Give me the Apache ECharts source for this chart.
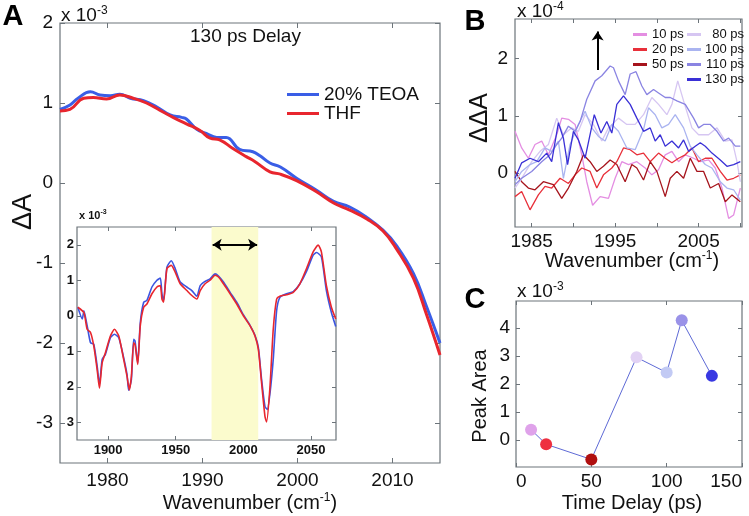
<!DOCTYPE html>
<html>
<head>
<meta charset="utf-8">
<script src="https://cdn.jsdelivr.net/npm/echarts@6.0.0/dist/echarts.min.js"></script>
<style>
html,body{margin:0;padding:0;background:#fff;}
#chart{width:749px;height:516px;}
</style>
</head>
<body>
<div id="chart"></div>
<script>
// ---------- Panel A (main, 130 ps delay) ----------
const aBlueWn = [1975,1976.05,1976.9,1978.2,1979.2,1980.3,1981.3,1982.4,1983.8,1985.2,1986.6,1987.8,1988.3,1989.4,1990.4,1991.5,1992.5,1993.9,1995.3,1996.05,1997.1,1998.2,1999.9,2002,2003.8,2005.5,2007.3,2009,2010.4,2012.2,2013.6,2015];
const aBlueDA = [0.92,0.975,1.06,1.14,1.1,1.09,1.11,1.06,1.03,0.95,0.85,0.82,0.8,0.67,0.62,0.57,0.57,0.42,0.39,0.34,0.25,0.2,0.06,-0.09,-0.23,-0.3,-0.43,-0.59,-0.78,-1.13,-1.55,-2.0];
const aRedWn = [1975,1976.05,1977.5,1978.5,1979.9,1981.3,1982.7,1984.1,1985.5,1986.9,1988.3,1989.7,1990.8,1991.8,1993.2,1994.6,1995.5,1997.1,1998.2,1999.9,2002,2003.8,2005.5,2007.3,2009,2010.4,2012.2,2013.6,2015];
const aRedDA = [0.9,0.92,1.06,1.07,1.05,1.1,1.06,1.0,0.91,0.82,0.74,0.66,0.56,0.54,0.43,0.33,0.27,0.14,0.11,0.03,-0.11,-0.25,-0.34,-0.45,-0.6,-0.82,-1.19,-1.65,-2.15];
const aXTicks = [1980, 1990, 2000, 2010];
const aYTicks = [-3, -2, -1, 0, 1, 2];

// ---------- Panel A inset (full spectrum) ----------
const inBlueWn = [1877.6,1880.9,1882.1,1884.5,1887.0,1889.4,1891.9,1893.6,1895.6,1898.0,1901.7,1904.7,1907.9,1911.5,1914.0,1915.2,1917.2,1918.9,1919.9,1921.9,1923.8,1926.3,1928.7,1932.4,1936.1,1938.6,1939.8,1941.0,1943.5,1946.7,1949.6,1953.3,1958.2,1961.9,1965.6,1968.1,1971.7,1975.4,1979.1,1981.6,1985.3,1990.2,1995.1,2000.0,2004.9,2008.6,2011.1,2013.5,2016.0,2017.7,2019.7,2022.1,2024.6,2027.0,2031.9,2036.9,2041.8,2046.7,2051.6,2054.1,2057.7,2061.4,2065.1,2068.3];
const inBlueDA = [0.24,-0.09,0.14,-0.28,-0.76,-0.8,-1.42,-1.94,-1.23,-1.09,-0.62,-0.52,-0.62,-1.18,-1.66,-2.1,-1.8,-0.66,-0.71,-1.33,-0.19,0.38,0.43,0.81,1.0,1.06,0.62,0.43,1.37,1.55,1.33,0.95,0.81,0.71,0.55,0.85,0.97,1.04,1.18,1.12,0.95,0.66,0.38,0.03,-0.27,-0.55,-0.9,-1.8,-2.56,-2.64,-2.18,-1.23,0.14,0.52,0.62,0.68,0.9,1.25,1.71,1.78,1.66,0.71,0.09,-0.3];
const inRedWn = [1877.6,1882.1,1884.5,1887.0,1889.4,1891.9,1893.6,1895.6,1898.0,1901.7,1904.7,1907.9,1911.5,1914.0,1915.7,1917.2,1918.9,1919.9,1921.9,1923.8,1926.3,1928.7,1932.4,1936.1,1938.6,1939.8,1941.0,1943.5,1946.7,1949.6,1953.3,1958.2,1961.9,1965.6,1968.1,1971.7,1975.4,1979.1,1981.6,1985.3,1990.2,1995.1,2000.0,2004.9,2008.6,2011.1,2013.5,2016.0,2017.2,2019.7,2022.1,2024.6,2027.0,2031.9,2036.9,2041.8,2046.7,2051.6,2055.3,2057.7,2061.4,2065.1,2068.3];
const inRedDA = [0.24,0.09,-0.38,-0.47,-0.85,-1.52,-2.04,-1.33,-1.04,-0.57,-0.38,-0.57,-1.23,-1.71,-2.09,-1.71,-0.76,-0.81,-1.37,-0.28,0.24,0.33,0.62,0.81,0.85,0.47,0.38,1.33,1.42,1.23,0.9,0.71,0.57,0.47,0.71,0.9,1.0,1.14,1.09,0.9,0.62,0.33,0,-0.28,-0.57,-0.95,-1.9,-2.84,-2.99,-1.99,-0.38,0.47,0.55,0.59,0.66,0.9,1.33,1.8,1.99,1.8,0.85,0.24,-0.09];
const inXTicks = [1900, 1950, 2000, 2050];
const inYTicks = [-3, -2, -1, 0, 1, 2];
const inBand = [1976.5, 2011];

// ---------- Panel B (difference spectra, x 10^-4) ----------
const bNames = ['10 ps', '20 ps', '50 ps', '80 ps', '100 ps', '110 ps', '130 ps'];
const b10Wn = [1983.0,1983.8,1984.6,1985.4,1986.2,1987.0,1988.0,1988.6,1989.4,1990.2,1991.0,1991.6,1992.3,1993.2,1994.2,1995.0,1995.8,1996.6,1997.6,1998.6,1999.4,2000.2,2001.0,2001.8,2002.6,2003.4,2004.4,2005.2,2006.2,2007.0,2007.8,2008.6,2009.2,2010.0];
const b10DDA = [0.73,0.44,0.26,0.5,0.56,0.32,0.67,0.96,0.94,0.85,0.32,-0.15,-0.56,-0.41,-0.44,-0.09,0.2,0.15,0.2,0.09,-0.03,0.06,0.32,0.38,0.2,0.32,0.26,0.2,0.23,0.09,-0.26,-0.79,-0.73,-0.26];
const b20Wn = [1983.0,1983.8,1984.8,1985.8,1986.6,1987.4,1988.4,1989.4,1990.2,1991.0,1992.0,1992.8,1993.6,1994.6,1995.2,1996.0,1996.8,1997.6,1998.4,1999.2,2000.2,2001.0,2001.8,2002.6,2003.4,2004.2,2005.0,2005.8,2006.6,2007.6,2008.4,2009.2,2010.0];
const b20DDA = [-0.41,-0.32,-0.64,-0.38,-0.23,-0.26,-0.09,-0.18,-0.03,0.09,0.03,-0.26,-0.03,0.09,0.2,0.44,0.41,0.32,0.35,0.2,0.35,0.26,0.18,0.26,0.32,0.44,0.2,0.26,0.26,0.03,-0.12,-0.09,-0.03];
const b50Wn = [1983.0,1983.8,1984.6,1985.4,1986.4,1987.6,1988.6,1989.4,1990.4,1991.2,1992.0,1992.8,1993.6,1994.4,1995.2,1996.2,1997.0,1997.6,1998.4,1999.2,2000.0,2001.0,2001.6,2002.4,2003.2,2004.0,2004.8,2005.6,2006.4,2007.4,2008.2,2009.0,2010.0];
const b50DDA = [0.03,-0.15,-0.26,-0.29,-0.15,-0.2,-0.44,-0.26,0.03,0.32,0.2,0.03,0.12,0.23,0.15,-0.15,0.15,0.09,-0.12,0.2,0.03,-0.41,-0.09,0.03,-0.09,0.26,0.03,0.03,-0.26,-0.18,-0.5,-0.38,-0.5];
const b80Wn = [1983.0,1983.8,1985.0,1986.0,1987.0,1988.0,1988.8,1989.8,1990.6,1991.4,1992.4,1993.4,1994.2,1995.4,1996.4,1997.4,1998.4,1999.4,2000.2,2001.2,2001.8,2002.5,2003.2,2004.2,2005.0,2006.2,2007.2,2008.2,2009.0,2009.6,2010.0];
const b80DDA = [-0.26,-0.09,0.2,0.38,0.5,0.96,0.67,0.79,0.73,1.02,0.85,0.56,0.79,0.96,0.85,0.85,1.02,1.32,1.2,1.02,1.2,1.61,1.26,0.79,0.67,0.67,0.79,0.56,0.58,0.2,-0.15];
const b100Wn = [1983.0,1983.8,1984.8,1985.6,1986.6,1987.4,1988.2,1988.8,1989.6,1990.6,1991.4,1992.2,1993.0,1993.8,1994.6,1995.4,1996.4,1997.4,1998.4,1999.0,1999.8,2000.6,2001.4,2002.2,2003.2,2004.0,2004.8,2005.8,2006.6,2007.6,2008.4,2009.2,2010.0];
const b100DDA = [-0.15,0.03,0.15,0.2,0.44,0.38,0.56,-0.09,0.5,0.85,1.08,0.79,0.64,0.56,0.85,0.73,0.44,0.41,0.76,1.14,1.02,0.79,0.85,1.02,0.79,0.47,0.32,0.15,0.09,-0.15,-0.26,-0.29,-0.47];
const b110Wn = [1983.0,1983.8,1985.0,1986.2,1987.2,1988.0,1988.6,1989.4,1990.2,1990.8,1991.6,1992.6,1993.4,1994.4,1994.8,1995.4,1996.2,1996.8,1997.5,1998.2,1998.8,1999.6,2000.2,2001.0,2001.6,2002.4,2003.4,2004.4,2005.0,2005.6,2006.4,2007.2,2008.0,2008.6,2009.4,2010.0];
const b110DDA = [-0.2,-0.09,0.03,0.2,0.32,0.5,0.61,0.82,0.73,0.9,1.29,1.61,1.7,1.87,1.84,1.61,1.37,1.73,1.77,1.52,1.37,1.46,1.4,1.32,1.32,1.26,1.2,0.96,0.79,0.85,0.85,0.73,0.56,0.61,0.47,0.47];
const b130Wn = [1983.0,1983.8,1984.8,1985.8,1986.8,1987.4,1988.2,1988.8,1989.3,1990.0,1990.6,1991.4,1992.5,1993.3,1994.0,1994.6,1995.2,1996.0,1996.8,1997.6,1998.4,1999.2,1999.8,2000.4,2001.0,2001.8,2002.6,2003.2,2003.8,2004.6,2005.2,2005.8,2006.6,2007.6,2008.4,2009.2,2010.0];
const b130DDA = [-0.09,0.18,0.26,0.2,0.35,0.2,0.88,0.61,0.15,0.73,0.58,0.26,1.02,0.7,0.9,0.7,1.2,1.35,1.2,0.96,0.73,0.79,0.56,0.67,0.47,0.56,0.44,0.58,0.38,0.47,0.53,0.47,0.35,0.23,0.12,0.15,0.2];
const bXTicks = [1985, 1990, 1995, 2000, 2005, 2010];
const bXLabels = [1985, 1995, 2005];
const bYTicks = [0, 1, 2];

// ---------- Panel C (peak area, x 10^-3) ----------
const cDelay = [10, 20, 50, 80, 100, 110, 130];
const cArea = [0.37, -0.15, -0.69, 2.95, 2.41, 4.27, 2.29];
const cXTicks = [0, 50, 100, 150];
const cYTicks = [0, 1, 2, 3, 4];

// ---------- styling ----------
const FONT = '"Liberation Sans", Arial, Helvetica, sans-serif';
const AX = '#6c747a';
const TXT = '#111';
const bColors = ['#e48ee2', '#e8303a', '#a6141c', '#d6c6f2', '#aab4f0', '#8a84e2', '#3a30d6'];
const cColors = ['#dfa2ea', '#ee3040', '#b01010', '#e2d2f4', '#c2caf4', '#9a92e8', '#3838e2'];
const zip = (xs, ys) => xs.map((x, i) => [x, ys[i]]);

function ax(o) {
  return {
    type: 'value', gridIndex: o.grid, position: o.pos, min: o.min, max: o.max,
    splitLine: { show: false }, axisLine: { show: false, onZero: false },
    axisTick: { show: true, inside: true, length: o.tl || 5, customValues: o.ticks, lineStyle: { color: AX, width: 1 } },
    axisLabel: Object.assign({
      show: !!o.labels, customValues: o.labels || o.ticks, margin: o.margin || 8,
      color: TXT, fontFamily: FONT, fontSize: o.fs || 19, fontWeight: o.bold ? 'bold' : 'normal',
      formatter: o.fmt || (v => String(v))
    }, o.labelExtra || {})
  };
}
const gridBox = (l, t, w, h) => ({ left: l, top: t, width: w, height: h, show: true, backgroundColor: '#fff', borderColor: AX, borderWidth: 1.2, containLabel: false, outerBoundsMode: 'none' });

const supRich = (fs, bold) => ({
  b: { fontSize: fs, fontFamily: FONT, fontWeight: bold ? 'bold' : 'normal', fill: TXT, lineHeight: fs + 2 },
  s: { fontSize: Math.round(fs * 0.62), fontFamily: FONT, fontWeight: bold ? 'bold' : 'normal', fill: TXT, verticalAlign: 'top', padding: [0, 0, Math.round(fs * 0.45), 0], lineHeight: fs + 2 }
});

// each grid g owns axes 2g (main) and 2g+1 (mirror)
const lineSeries = (name, g, data, color, width, smooth) => ({
  type: 'line', name, xAxisIndex: 2 * g, yAxisIndex: 2 * g, data, showSymbol: false, symbol: 'none',
  smooth: smooth || false,
  lineStyle: { color, width }, itemStyle: { color }, silent: true, animation: false
});

const option = {
  animation: false,
  backgroundColor: '#fff',
  grid: [
    gridBox(60, 23, 380, 440),
    gridBox(77, 227, 259, 213),
    gridBox(515, 19, 227, 208),
    gridBox(516, 301, 226, 166)
  ],
  xAxis: [
    ax({ grid: 0, pos: 'bottom', min: 1975, max: 2015, ticks: aXTicks, labels: aXTicks, fs: 19, margin: 8 }),
    ax({ grid: 0, pos: 'top', min: 1975, max: 2015, ticks: aXTicks }),
    ax({ grid: 1, pos: 'bottom', min: 1877, max: 2068.5, ticks: inXTicks, labels: inXTicks, fs: 13, bold: true, margin: 4, tl: 4 }),
    ax({ grid: 1, pos: 'top', min: 1877, max: 2068.5, ticks: inXTicks, tl: 4 }),
    ax({ grid: 2, pos: 'bottom', min: 1983, max: 2010.2, ticks: bXTicks, labels: bXLabels, fs: 19, margin: 5, tl: 4 }),
    ax({ grid: 2, pos: 'top', min: 1983, max: 2010.2, ticks: bXTicks, tl: 4 }),
    ax({ grid: 3, pos: 'bottom', min: 0, max: 150, ticks: cXTicks, labels: cXTicks, fs: 19, margin: 5, tl: 4,
         labelExtra: { alignMinLabel: 'left', alignMaxLabel: 'right' } }),
    ax({ grid: 3, pos: 'top', min: 0, max: 150, ticks: cXTicks, tl: 4 })
  ],
  yAxis: [
    ax({ grid: 0, pos: 'left', min: -3.5, max: 2, ticks: aYTicks, labels: aYTicks, fs: 19, margin: 7 }),
    ax({ grid: 0, pos: 'right', min: -3.5, max: 2, ticks: aYTicks }),
    ax({ grid: 1, pos: 'left', min: -3.5, max: 2.5, ticks: inYTicks, labels: inYTicks, fs: 13, bold: true, margin: 3, tl: 4, fmt: v => String(Math.abs(v)) }),
    ax({ grid: 1, pos: 'right', min: -3.5, max: 2.5, ticks: inYTicks, tl: 4 }),
    ax({ grid: 2, pos: 'left', min: -0.94, max: 2.69, ticks: bYTicks, labels: bYTicks, fs: 19, margin: 7, tl: 4 }),
    ax({ grid: 2, pos: 'right', min: -0.94, max: 2.69, ticks: bYTicks, tl: 4 }),
    ax({ grid: 3, pos: 'left', min: -0.96, max: 4.96, ticks: cYTicks, labels: cYTicks, fs: 19, margin: 6, tl: 4 }),
    ax({ grid: 3, pos: 'right', min: -0.96, max: 4.96, ticks: cYTicks, tl: 4 })
  ],
  legend: [
    {
      data: ['20% TEOA', 'THF'], left: 282, top: 80, orient: 'vertical', icon: 'rect',
      itemWidth: 32, itemHeight: 3, itemGap: 0, selectedMode: false,
      textStyle: { fontFamily: FONT, fontSize: 19, color: TXT, lineHeight: 16 }
    },
    {
      data: ['10 ps', '20 ps', '50 ps'], left: 628, top: 22, orient: 'vertical', icon: 'rect',
      itemWidth: 14, itemHeight: 3, itemGap: 0, selectedMode: false,
      textStyle: { fontFamily: FONT, fontSize: 13, color: TXT, lineHeight: 15 }
    },
    {
      data: ['80 ps', '100 ps', '110 ps', '130 ps'], left: 682, top: 22, orient: 'vertical', icon: 'rect',
      itemWidth: 14, itemHeight: 3, itemGap: 0, selectedMode: false,
      formatter: n => '{r|' + n + '}',
      textStyle: { fontFamily: FONT, fontSize: 13, color: TXT, lineHeight: 15,
        rich: { r: { width: 38, align: 'right', fontFamily: FONT, fontSize: 13, color: TXT, lineHeight: 15 } } }
    }
  ],
  series: [
    lineSeries('20% TEOA', 0, zip(aBlueWn, aBlueDA), '#3a5ee6', 3, 0.45),
    lineSeries('THF', 0, zip(aRedWn, aRedDA), '#e8262e', 3, 0.45),
    Object.assign(lineSeries('inset band', 1, [], '#000', 0), {
      markArea: { silent: true, itemStyle: { color: '#fbfbcd' }, data: [[{ xAxis: inBand[0] }, { xAxis: inBand[1] }]] }
    }),
    lineSeries('inset TEOA', 1, zip(inBlueWn, inBlueDA), '#3c55e0', 1.6, 0.2),
    Object.assign(lineSeries('inset THF', 1, zip(inRedWn, inRedDA), '#e8262e', 1.6, 0.2), {
      markLine: {
        silent: true, symbol: ['arrow', 'arrow'], symbolSize: [9, 9],
        lineStyle: { color: '#000', width: 2, type: 'solid' }, label: { show: false },
        data: [[{ coord: [inBand[0] + 0.8, 2] }, { coord: [inBand[1] - 0.8, 2] }]]
      }
    }),
    lineSeries('10 ps', 2, zip(b10Wn, b10DDA), bColors[0], 1.3),
    lineSeries('20 ps', 2, zip(b20Wn, b20DDA), bColors[1], 1.3),
    lineSeries('50 ps', 2, zip(b50Wn, b50DDA), bColors[2], 1.3),
    lineSeries('80 ps', 2, zip(b80Wn, b80DDA), bColors[3], 1.3),
    lineSeries('100 ps', 2, zip(b100Wn, b100DDA), bColors[4], 1.3),
    lineSeries('110 ps', 2, zip(b110Wn, b110DDA), bColors[5], 1.3),
    Object.assign(lineSeries('130 ps', 2, zip(b130Wn, b130DDA), bColors[6], 1.3), {
      markLine: {
        silent: true, symbol: ['none', 'arrow'], symbolSize: [9, 9],
        lineStyle: { color: '#000', width: 2, type: 'solid' }, label: { show: false },
        data: [[{ coord: [1992.9, 1.8] }, { coord: [1992.9, 2.47] }]]
      }
    }),
    {
      type: 'line', name: 'peak area', xAxisIndex: 6, yAxisIndex: 6, silent: true,
      symbol: 'circle', symbolSize: 12, showSymbol: true,
      lineStyle: { color: '#5e6ad6', width: 1 },
      data: cDelay.map((d, i) => ({ value: [d, cArea[i]], itemStyle: { color: cColors[i] } }))
    }
  ],
  graphic: [
    { type: 'text', x: 13, y: 17, style: { text: 'A', font: 'bold 29px ' + FONT, fill: '#000', align: 'center', verticalAlign: 'middle' } },
    { type: 'text', x: 475, y: 22, style: { text: 'B', font: 'bold 29px ' + FONT, fill: '#000', align: 'center', verticalAlign: 'middle' } },
    { type: 'text', x: 475, y: 300, style: { text: 'C', font: 'bold 29px ' + FONT, fill: '#000', align: 'center', verticalAlign: 'middle' } },
    { type: 'text', x: 61, y: 5, style: { text: '{b|x 10}{s|-3}', rich: supRich(19), fill: TXT } },
    { type: 'text', x: 517, y: 1, style: { text: '{b|x 10}{s|-4}', rich: supRich(19), fill: TXT } },
    { type: 'text', x: 517, y: 281, style: { text: '{b|x 10}{s|-3}', rich: supRich(19), fill: TXT } },
    { type: 'text', x: 79, y: 209, style: { text: '{b|x 10}{s|-3}', rich: supRich(11, true), fill: TXT } },
    { type: 'text', x: 190, y: 37, style: { text: '130 ps Delay', font: '19px ' + FONT, fill: TXT, verticalAlign: 'middle' } },
    { type: 'text', x: 24, y: 212, rotation: Math.PI / 2, style: { text: '\u0394A', font: '27px ' + FONT, fill: TXT, align: 'center', verticalAlign: 'middle' } },
    { type: 'text', x: 480, y: 118, rotation: Math.PI / 2, style: { text: '\u0394\u0394A', font: '25px ' + FONT, fill: TXT, align: 'center', verticalAlign: 'middle' } },
    { type: 'text', x: 480, y: 396, rotation: Math.PI / 2, style: { text: 'Peak Area', font: '20px ' + FONT, fill: TXT, align: 'center', verticalAlign: 'middle' } },
    { type: 'text', x: 250, y: 503, style: { text: '{b|Wavenumber (cm}{s|-1}{b|)}', rich: supRich(20), fill: TXT, align: 'center', verticalAlign: 'middle' } },
    { type: 'text', x: 632, y: 261, style: { text: '{b|Wavenumber (cm}{s|-1}{b|)}', rich: supRich(20), fill: TXT, align: 'center', verticalAlign: 'middle' } },
    { type: 'text', x: 632, y: 503, style: { text: 'Time Delay (ps)', font: '20px ' + FONT, fill: TXT, align: 'center', verticalAlign: 'middle' } }
  ]
};

const chart = echarts.init(document.getElementById('chart'), null, { renderer: 'canvas' });
chart.setOption(option);
</script>
</body>
</html>
